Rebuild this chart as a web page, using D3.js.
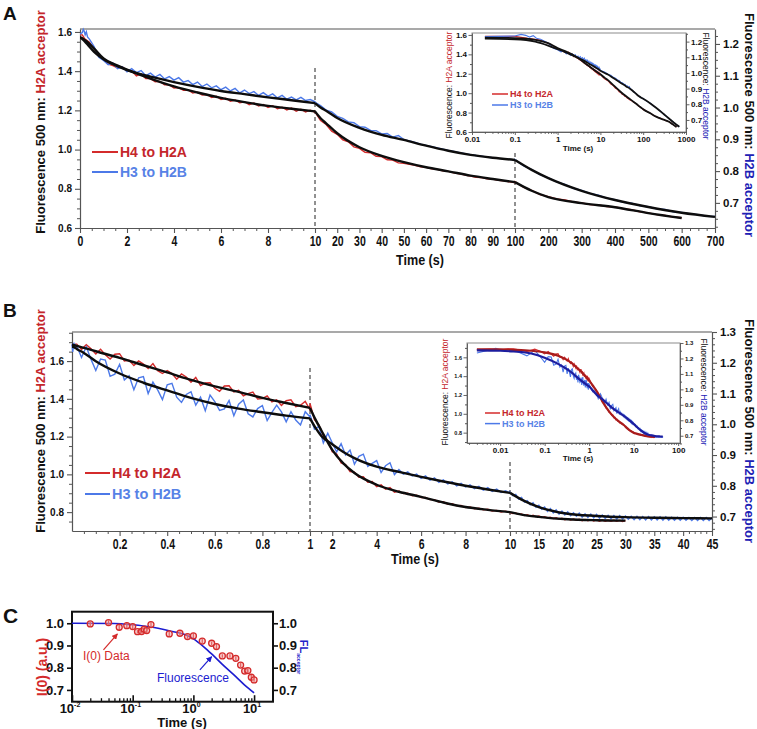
<!DOCTYPE html>
<html>
<head>
<meta charset="utf-8">
<script src="https://cdn.jsdelivr.net/npm/d3@7"></script>
<style>
  body { margin: 0; background: #fff; }
  svg { display: block; }
  text { white-space: pre; }
</style>
</head>
<body>
<svg id="fig" width="757" height="729"></svg>
<script>
// ---------- values ----------

// Panel A : red = H4 to H2A (left axis), blue = H3 to H2B (right axis); time in s
const aRedEarly = [[0, 1.585], [0.02, 1.585], [0.1, 1.585], [0.2, 1.565]];
// t = 0.4 .. 10 every 0.2 s
const aRedRaw1 = [1.548, 1.515, 1.485, 1.458, 1.436, 1.428, 1.416, 1.422, 1.400, 1.402,
  1.376, 1.386, 1.362, 1.362, 1.346, 1.348, 1.330, 1.330, 1.314, 1.316,
  1.302, 1.304, 1.288, 1.293, 1.278, 1.281, 1.266, 1.272, 1.256, 1.262,
  1.246, 1.253, 1.239, 1.244, 1.229, 1.238, 1.222, 1.230, 1.215, 1.224,
  1.208, 1.216, 1.202, 1.212, 1.196, 1.206, 1.192, 1.201, 1.190];
// t = 10 .. 100 every 2.5 s
const aRedRaw2 = [1.192, 1.148, 1.128, 1.094, 1.078, 1.050, 1.040, 1.014, 1.006, 0.986,
  0.984, 0.966, 0.964, 0.948, 0.946, 0.932, 0.930, 0.925, 0.920, 0.912,
  0.909, 0.902, 0.899, 0.892, 0.889, 0.881, 0.877, 0.870, 0.865, 0.859,
  0.857, 0.851, 0.849, 0.843, 0.841, 0.835, 0.831];
// t = 100 .. 600 every 25 s
const aRedRaw3 = [0.836, 0.808, 0.792, 0.771, 0.760, 0.748, 0.743, 0.733, 0.728, 0.720,
  0.717, 0.710, 0.707, 0.698, 0.693, 0.683, 0.677, 0.668, 0.664, 0.656, 0.652];
const aRedFit = [[0, 1.572], [0.02, 1.572], [0.1, 1.568], [0.3, 1.55], [0.6, 1.515], [1, 1.465],
  [1.5, 1.433], [2, 1.408], [3, 1.362], [4, 1.322], [5, 1.291], [6, 1.264], [7, 1.242],
  [8, 1.223], [9, 1.208], [10, 1.195], [12.5, 1.16], [15, 1.134], [20, 1.083], [30, 1.012],
  [40, 0.968], [50, 0.936], [60, 0.91], [70, 0.889], [80, 0.867], [90, 0.85], [100, 0.834],
  [150, 0.79], [200, 0.758], [300, 0.727], [400, 0.706], [500, 0.676], [600, 0.651]];

const aBlueEarly = [[0, 1.232], [0.02, 1.232], [0.1, 1.236], [0.14, 1.246], [0.18, 1.24],
  [0.22, 1.229], [0.27, 1.238], [0.32, 1.222]];
const aBlueRaw1 = [1.215, 1.192, 1.158, 1.148, 1.135, 1.140, 1.122, 1.128, 1.112, 1.122,
  1.110, 1.116, 1.100, 1.108, 1.096, 1.104, 1.090, 1.097, 1.086, 1.094,
  1.080, 1.085, 1.072, 1.080, 1.066, 1.074, 1.062, 1.068, 1.056, 1.064,
  1.052, 1.060, 1.046, 1.055, 1.044, 1.050, 1.038, 1.047, 1.036, 1.043,
  1.030, 1.038, 1.026, 1.033, 1.024, 1.032, 1.022, 1.025, 1.018];
const aBlueRaw2 = [1.016, 1.006, 0.992, 0.986, 0.972, 0.966, 0.955, 0.952, 0.940, 0.938,
  0.928, 0.927, 0.917, 0.918, 0.907, 0.912, 0.899, 0.895, 0.890, 0.885,
  0.881, 0.877, 0.873, 0.869, 0.865, 0.862, 0.858, 0.855, 0.852, 0.849,
  0.847, 0.844, 0.842, 0.840, 0.839, 0.837, 0.835];
// t = 100 .. 700 every 25 s
const aBlueRaw3 = [0.836, 0.817, 0.805, 0.789, 0.779, 0.766, 0.758, 0.746, 0.739, 0.730,
  0.724, 0.715, 0.710, 0.702, 0.699, 0.691, 0.688, 0.681, 0.679, 0.672,
  0.670, 0.665, 0.663, 0.658, 0.657];
const aBlueFit = [[0, 1.219], [0.02, 1.219], [0.1, 1.215], [0.3, 1.2], [0.6, 1.175], [1, 1.152],
  [1.5, 1.133], [2, 1.118], [3, 1.097], [4, 1.08], [5, 1.065], [6, 1.052], [7, 1.042],
  [8, 1.032], [9, 1.023], [10, 1.014], [12.5, 1.0], [15, 0.99], [20, 0.967], [30, 0.936],
  [40, 0.914], [50, 0.898], [60, 0.88], [70, 0.864], [80, 0.851], [90, 0.842], [100, 0.835],
  [150, 0.804], [200, 0.778], [300, 0.738], [400, 0.709], [500, 0.687], [600, 0.669], [700, 0.656]];

// Panel B
const bRedEarly = [[0, 1.685], [0.003, 1.68], [0.006, 1.688], [0.01, 1.678], [0.015, 1.69]];
// t = 0.02 .. 1 every 0.02 s
const bRedRaw1 = [1.690, 1.662, 1.687, 1.665, 1.637, 1.663, 1.634, 1.611, 1.636, 1.639,
  1.601, 1.604, 1.576, 1.601, 1.584, 1.560, 1.587, 1.549, 1.534, 1.550,
  1.534, 1.504, 1.532, 1.516, 1.488, 1.513, 1.470, 1.484, 1.485, 1.456,
  1.440, 1.468, 1.469, 1.437, 1.445, 1.416, 1.428, 1.436, 1.399, 1.401,
  1.416, 1.384, 1.395, 1.365, 1.390, 1.395, 1.359, 1.366, 1.387, 1.342];
// t = 1 .. 10 every 0.2 s
const bRedRaw2 = [1.375, 1.290, 1.262, 1.205, 1.178, 1.120, 1.108, 1.060, 1.052, 1.015,
  1.012, 0.985, 0.988, 0.958, 0.962, 0.935, 0.944, 0.922, 0.930, 0.905,
  0.912, 0.898, 0.900, 0.887, 0.890, 0.877, 0.878, 0.866, 0.866, 0.853,
  0.855, 0.842, 0.844, 0.833, 0.835, 0.824, 0.827, 0.818, 0.821, 0.812,
  0.815, 0.806, 0.809, 0.801, 0.805, 0.798];
// t = 10 .. 30 every 0.5 s
const bRedRaw3 = [0.799, 0.792, 0.795, 0.788, 0.790, 0.782, 0.786, 0.779, 0.783, 0.775,
  0.779, 0.772, 0.776, 0.769, 0.773, 0.766, 0.770, 0.763, 0.768, 0.760,
  0.765, 0.758, 0.763, 0.757, 0.762, 0.755, 0.761, 0.754, 0.760, 0.753,
  0.759, 0.752, 0.758, 0.752, 0.757, 0.751, 0.757, 0.751, 0.756, 0.750, 0.755];
const bRedFit = [[0, 1.685], [0.003, 1.685], [0.01, 1.684], [0.02, 1.68], [0.05, 1.67], [0.1, 1.652],
  [0.2, 1.617], [0.3, 1.578], [0.4, 1.54], [0.5, 1.50], [0.6, 1.466], [0.7, 1.437], [0.8, 1.405],
  [0.9, 1.378], [1, 1.352], [1.25, 1.29], [1.5, 1.235], [2, 1.13], [2.5, 1.058], [3, 1.007],
  [4, 0.945], [5, 0.908], [6, 0.881], [7, 0.851], [8, 0.827], [9, 0.812], [10, 0.80],
  [12, 0.787], [15, 0.775], [20, 0.762], [25, 0.757], [30, 0.755]];

const bBlueEarly = [[0, 1.26], [0.003, 1.235], [0.008, 1.265], [0.012, 1.25], [0.016, 1.258]];
const bBlueRaw1 = [1.255, 1.217, 1.252, 1.211, 1.175, 1.212, 1.209, 1.156, 1.163, 1.195,
  1.144, 1.158, 1.112, 1.151, 1.155, 1.100, 1.137, 1.112, 1.080, 1.128,
  1.133, 1.088, 1.071, 1.097, 1.106, 1.062, 1.088, 1.044, 1.095, 1.074,
  1.045, 1.050, 1.077, 1.028, 1.065, 1.079, 1.034, 1.024, 1.051, 1.061,
  1.012, 1.039, 1.062, 1.040, 1.008, 1.041, 1.014, 0.998, 1.041, 1.024];
const bBlueRaw2 = [1.031, 0.984, 0.993, 0.939, 0.971, 0.940, 0.910, 0.937, 0.900, 0.916,
  0.870, 0.896, 0.903, 0.863, 0.873, 0.882, 0.843, 0.865, 0.875, 0.836,
  0.853, 0.838, 0.845, 0.832, 0.838, 0.824, 0.832, 0.818, 0.826, 0.811,
  0.819, 0.806, 0.813, 0.800, 0.808, 0.796, 0.803, 0.791, 0.798, 0.786,
  0.794, 0.782, 0.789, 0.778, 0.784, 0.776];
// t = 10 .. 45 every 0.5 s
const bBlueRaw3 = [0.779, 0.768, 0.772, 0.757, 0.762, 0.747, 0.752, 0.738, 0.745, 0.730,
  0.737, 0.724, 0.731, 0.717, 0.726, 0.712, 0.722, 0.708, 0.718, 0.705,
  0.715, 0.703, 0.712, 0.701, 0.711, 0.698, 0.709, 0.697, 0.708, 0.696,
  0.707, 0.695, 0.705, 0.694, 0.704, 0.693, 0.703, 0.692, 0.703, 0.692,
  0.702, 0.691, 0.701, 0.690, 0.701, 0.690, 0.700, 0.689, 0.700, 0.689,
  0.699, 0.689, 0.699, 0.688, 0.699, 0.688, 0.698, 0.688, 0.698, 0.688,
  0.698, 0.688, 0.697, 0.687, 0.697, 0.687, 0.697, 0.687, 0.697, 0.687, 0.696];
const bBlueFit = [[0, 1.252], [0.003, 1.252], [0.01, 1.25], [0.02, 1.245], [0.05, 1.232],
  [0.1, 1.205], [0.2, 1.165], [0.3, 1.135], [0.4, 1.11], [0.5, 1.086], [0.6, 1.066],
  [0.7, 1.051], [0.8, 1.039], [0.9, 1.028], [1, 1.019], [1.25, 0.988], [1.5, 0.963],
  [2, 0.935], [2.5, 0.91], [3, 0.89], [4, 0.862], [5, 0.845], [6, 0.829], [7, 0.814],
  [8, 0.80], [9, 0.788], [10, 0.777], [12, 0.755], [15, 0.731], [20, 0.709], [25, 0.702],
  [30, 0.698], [35, 0.696], [40, 0.695], [45, 0.694]];

// Panel C
const cTime = [0.02, 0.04, 0.06, 0.08, 0.1, 0.12, 0.14, 0.155, 0.17, 0.2, 0.4, 0.6, 0.8, 1,
  1.4, 2, 2.4, 3, 4, 5, 6, 7, 7.9, 9, 10];
const cI0 = [0.997, 1.003, 0.982, 0.989, 0.985, 0.962, 0.963, 0.973, 0.967, 0.994, 0.952,
  0.955, 0.94, 0.943, 0.92, 0.91, 0.895, 0.853, 0.853, 0.842, 0.812, 0.785, 0.787, 0.757, 0.745];
const cErr = [0.01, 0.01, 0.014, 0.014, 0.014, 0.008, 0.008, 0.01, 0.012, 0.01, 0.014,
  0.008, 0.01, 0.012, 0.01, 0.008, 0.012, 0.008, 0.008, 0.01, 0.01, 0.012, 0.01, 0.01, 0.008];
const cFluoT = [0.01, 0.05, 0.1, 0.2, 0.4, 0.7, 1, 1.5, 2, 3, 5, 7, 10];
const cFluoV = [1.0, 0.999, 0.993, 0.983, 0.966, 0.95, 0.93, 0.893, 0.862, 0.815, 0.76, 0.722, 0.687];

// tick values
const aTicksX = [0, 2, 4, 6, 8, 10, 20, 30, 40, 50, 60, 70, 80, 90, 100, 200, 300, 400, 500, 600, 700];
const aTicksL = [0.6, 0.8, 1.0, 1.2, 1.4, 1.6];
const aTicksR = [0.7, 0.8, 0.9, 1.0, 1.1, 1.2];
const bTicksX = [0.2, 0.4, 0.6, 0.8, 1, 2, 4, 6, 8, 10, 15, 20, 25, 30, 35, 40, 45];
const bTicksL = [0.8, 1.0, 1.2, 1.4, 1.6];
const bTicksR = [0.7, 0.8, 0.9, 1.0, 1.1, 1.2, 1.3];
const insetATicksX = [0.01, 0.1, 1, 10, 100, 1000];
const insetBTicksX = [0.01, 0.1, 1, 10, 100];
const cTicksY = [0.7, 0.8, 0.9, 1.0];
const cTicksX = [0.01, 0.1, 1, 10];

// ---------- drawing ----------
const svg = d3.select("#fig");
const FONT = "'Liberation Sans', Arial, Helvetica, sans-serif";
const AX = "#555";
const RED = "#d42b2b", BLUE = "#4c79e8";
const RED_T = "#c4262b", BLUE_T = "#5782e6", NAVY = "#2020b4";

function grid(t0, dt, vals) { return vals.map((v, i) => [+(t0 + i * dt).toFixed(4), v]); }
function splitAt(pts, breaks) {
  const edges = [-Infinity, ...breaks, Infinity], segs = [];
  for (let i = 0; i < edges.length - 1; i++) {
    const s = pts.filter(p => p[0] >= edges[i] && p[0] <= edges[i + 1]);
    if (s.length > 1) segs.push(s);
  }
  return segs;
}
function notMultiple(step) { return v => Math.abs(v / step - Math.round(v / step)) > 1e-6; }

const aRed = [...aRedEarly, ...grid(0.4, 0.2, aRedRaw1), ...grid(10, 2.5, aRedRaw2), ...grid(100, 25, aRedRaw3)];
const aBlue = [...aBlueEarly, ...grid(0.4, 0.2, aBlueRaw1), ...grid(10, 2.5, aBlueRaw2), ...grid(100, 25, aBlueRaw3)];
const bRed = [...bRedEarly, ...grid(0.02, 0.02, bRedRaw1), ...grid(1, 0.2, bRedRaw2), ...grid(10, 0.5, bRedRaw3)];
const bBlue = [...bBlueEarly, ...grid(0.02, 0.02, bBlueRaw1), ...grid(1, 0.2, bBlueRaw2), ...grid(10, 0.5, bBlueRaw3)];

function axisStyle(g, fs, col) {
  g.attr("font-family", FONT).attr("font-size", fs).attr("font-weight", "bold");
  g.select(".domain").attr("stroke", col || AX).attr("stroke-width", 1.2);
  g.selectAll(".tick line").attr("stroke", col || AX).attr("stroke-width", 1.1);
  g.selectAll(".tick text").attr("fill", "#111");
  return g;
}
function minorAxis(g, axis, tr, col) {
  const m = g.append("g").attr("transform", tr).call(axis.tickFormat(""));
  m.select(".domain").remove();
  m.selectAll("line").attr("stroke", col || AX).attr("stroke-width", 1);
  return m;
}
function rotLabel(g, x, y, angle, parts, fs, weight) {
  const t = g.append("text").attr("transform", `translate(${x},${y}) rotate(${angle})`)
    .attr("text-anchor", "middle").attr("font-family", FONT)
    .attr("font-size", fs).attr("font-weight", weight);
  parts.forEach(([s, c]) => t.append("tspan").attr("fill", c).text(s));
  return t;
}
function legend(g, lg) {
  [["H4 to H2A", RED, RED_T], ["H3 to H2B", BLUE, BLUE_T]].forEach(([name, lc, tc], i) => {
    const y = lg.y + i * lg.dy;
    g.append("line").attr("x1", lg.x1).attr("x2", lg.x2).attr("y1", y).attr("y2", y)
      .attr("stroke", lc).attr("stroke-width", lg.w || 2);
    g.append("text").attr("x", lg.x2 + 2).attr("y", y + lg.fs * 0.36)
      .attr("font-family", FONT).attr("font-size", lg.fs).attr("font-weight", "bold")
      .attr("fill", tc).text(name);
  });
}

function mainPanel(p) {
  const g = svg.append("g");
  const xr = p.x.range(), L = xr[0], R = xr[xr.length - 1];
  g.append("line").attr("x1", L).attr("x2", R).attr("y1", p.top).attr("y2", p.top)
    .attr("stroke", AX).attr("stroke-width", 1.2);
  p.dashes.forEach(([t, y0]) => g.append("line")
    .attr("x1", p.x(t)).attr("x2", p.x(t)).attr("y1", y0).attr("y2", p.bottom)
    .attr("stroke", "#222").attr("stroke-width", 1).attr("stroke-dasharray", "4,3"));

  minorAxis(g, d3.axisBottom(p.x).tickValues(p.xMinor).tickSize(3), `translate(0,${p.bottom})`);
  minorAxis(g, d3.axisLeft(p.yL).tickValues(p.yLMinor).tickSize(3), `translate(${L},0)`);
  minorAxis(g, d3.axisRight(p.yR).tickValues(p.yRMinor).tickSize(3), `translate(${R},0)`);

  const gx = g.append("g").attr("transform", `translate(0,${p.bottom})`)
    .call(d3.axisBottom(p.x).tickValues(p.xTicks).tickSize(5).tickSizeOuter(0).tickPadding(3).tickFormat(d => d));
  axisStyle(gx, p.xFs);
  gx.selectAll(".tick text").attr("transform", `scale(${p.xSx},1)`);
  const gl = g.append("g").attr("transform", `translate(${L},0)`)
    .call(d3.axisLeft(p.yL).tickValues(p.yLTicks).tickSize(5).tickSizeOuter(0).tickPadding(3).tickFormat(d3.format(".1f")));
  axisStyle(gl, p.yLFs);
  const gr = g.append("g").attr("transform", `translate(${R},0)`)
    .call(d3.axisRight(p.yR).tickValues(p.yRTicks).tickSize(5).tickSizeOuter(0).tickPadding(3).tickFormat(d3.format(".1f")));
  axisStyle(gr, p.yRFs);

  const rawL = d3.line().x(d => p.x(d[0])).y(d => p.yL(d[1]));
  const rawR = d3.line().x(d => p.x(d[0])).y(d => p.yR(d[1]));
  g.append("path").datum(p.red).attr("d", rawL).attr("fill", "none").attr("stroke", RED).attr("stroke-width", 1.4);
  g.append("path").datum(p.blue).attr("d", rawR).attr("fill", "none").attr("stroke", BLUE).attr("stroke-width", 1.4);
  const fitL = d3.line().curve(d3.curveMonotoneX).x(d => p.x(d[0])).y(d => p.yL(d[1]));
  const fitR = d3.line().curve(d3.curveMonotoneX).x(d => p.x(d[0])).y(d => p.yR(d[1]));
  splitAt(p.redFit, p.breaks).forEach(s => g.append("path").datum(s).attr("d", fitL)
    .attr("fill", "none").attr("stroke", "#0d0d0d").attr("stroke-width", 2.4));
  splitAt(p.blueFit, p.breaks).forEach(s => g.append("path").datum(s).attr("d", fitR)
    .attr("fill", "none").attr("stroke", "#0d0d0d").attr("stroke-width", 2.4));

  legend(g, p.legend);
  rotLabel(g, p.labelL[0], p.labelL[1], -90, [["Fluorescence 500 nm: ", "#111"], ["H2A acceptor", RED_T]], 13, "bold");
  rotLabel(g, p.labelR[0], p.labelR[1], 90, [["Fluorescence 500 nm: ", "#111"], ["H2B acceptor", NAVY]], 13, "bold");
  g.append("text").attr("transform", `translate(${p.time[0]},${p.time[1]}) scale(0.9,1)`)
    .attr("text-anchor", "middle").attr("font-family", FONT).attr("font-size", 14)
    .attr("font-weight", "bold").attr("fill", "#111").text("Time (s)");
  return g;
}

function inset(p) {
  const g = svg.append("g");
  const [L, R] = p.x.range();
  g.append("rect").attr("x", L).attr("y", p.top).attr("width", R - L).attr("height", p.bottom - p.top)
    .attr("fill", "#fff").attr("stroke", "#8c8c8c").attr("stroke-width", 1);
  const [d0, d1] = p.x.domain(), xm = [];
  for (let e = Math.floor(Math.log10(d0)); e <= Math.ceil(Math.log10(d1)); e++)
    for (let m = 2; m <= 9; m++) { const v = m * Math.pow(10, e); if (v >= d0 && v <= d1) xm.push(v); }
  minorAxis(g, d3.axisBottom(p.x).tickValues(xm).tickSize(1.8), `translate(0,${p.bottom})`);
  minorAxis(g, d3.axisLeft(p.yL).tickValues(p.yLMinor).tickSize(2), `translate(${L},0)`);
  minorAxis(g, d3.axisRight(p.yR).tickValues(p.yRMinor).tickSize(2), `translate(${R},0)`);
  const gx = g.append("g").attr("transform", `translate(0,${p.bottom})`)
    .call(d3.axisBottom(p.x).tickValues(p.xTicks).tickSize(3).tickSizeOuter(0).tickPadding(1).tickFormat(d => d));
  axisStyle(gx, p.xFs);
  const gl = g.append("g").attr("transform", `translate(${L},0)`)
    .call(d3.axisLeft(p.yL).tickValues(p.yLTicks).tickSize(3.5).tickSizeOuter(0).tickPadding(1.5).tickFormat(d3.format(".1f")));
  axisStyle(gl, p.yLFs);
  const gr = g.append("g").attr("transform", `translate(${R},0)`)
    .call(d3.axisRight(p.yR).tickValues(p.yRTicks).tickSize(3.5).tickSizeOuter(0).tickPadding(1.5).tickFormat(d3.format(".1f")));
  axisStyle(gr, p.yRFs);
  [gx, gl, gr].forEach(a => a.selectAll(".domain, .tick line").attr("stroke-width", 0.9));

  const inX = d => d[0] >= d0 && d[0] <= d1;
  const lineL = d3.line().x(d => p.x(d[0])).y(d => p.yL(d[1]));
  const lineR = d3.line().x(d => p.x(d[0])).y(d => p.yR(d[1]));
  g.append("path").datum(p.red.filter(inX)).attr("d", lineL).attr("fill", "none").attr("stroke", RED).attr("stroke-width", 1.1);
  g.append("path").datum(p.blue.filter(inX)).attr("d", lineR).attr("fill", "none").attr("stroke", BLUE).attr("stroke-width", 1.1);
  const fitL = d3.line().curve(d3.curveMonotoneX).x(d => p.x(d[0])).y(d => p.yL(d[1]));
  const fitR = d3.line().curve(d3.curveMonotoneX).x(d => p.x(d[0])).y(d => p.yR(d[1]));
  g.append("path").datum(p.redFit.filter(inX)).attr("d", fitL).attr("fill", "none")
    .attr("stroke", p.fitRed).attr("stroke-width", p.fitW);
  g.append("path").datum(p.blueFit.filter(inX)).attr("d", fitR).attr("fill", "none")
    .attr("stroke", p.fitBlue).attr("stroke-width", p.fitW);

  legend(g, p.legend);
  rotLabel(g, p.labelL[0], p.labelL[1], -90, [["Fluorescence: ", "#111"], ["H2A acceptor", RED_T]], 8.5, "normal");
  rotLabel(g, p.labelR[0], p.labelR[1], 90, [["Fluorescence: ", "#111"], ["H2B acceptor", NAVY]], 8.5, "normal");
  g.append("text").attr("x", p.time[0]).attr("y", p.time[1]).attr("text-anchor", "middle")
    .attr("font-family", FONT).attr("font-size", 8).attr("font-weight", "bold").attr("fill", "#111").text("Time (s)");
}

// ----- Panel A -----
mainPanel({
  x: d3.scaleLinear().domain([0, 10, 100, 700]).range([80, 315, 515, 715]),
  yL: d3.scaleLinear().domain([0.6, 1.615]).range([228, 29]),
  yR: d3.scaleLinear().domain([0.621, 1.247]).range([228, 29]),
  top: 29, bottom: 228, breaks: [10, 100], dashes: [[10, 68], [100, 153]],
  xTicks: aTicksX,
  xMinor: [...d3.range(0.5, 10, 0.5).filter(notMultiple(2)), ...d3.range(15, 100, 5).filter(notMultiple(10)),
    ...d3.range(125, 700, 25).filter(notMultiple(100))],
  yLTicks: aTicksL, yLMinor: d3.range(0.65, 1.615, 0.05).filter(notMultiple(0.2)),
  yRTicks: aTicksR, yRMinor: d3.range(0.625, 1.247, 0.025).filter(notMultiple(0.1)),
  red: aRed, blue: aBlue, redFit: aRedFit, blueFit: aBlueFit,
  xFs: 14, xSx: 0.75, yLFs: 10, yRFs: 11.5,
  legend: { x1: 92, x2: 118, y: 152, dy: 20, fs: 14 },
  labelL: [45, 122], labelR: [745, 125], time: [420, 265]
});
inset({
  x: d3.scaleLog().domain([0.01, 1000]).range([472, 686]),
  yL: d3.scaleLinear().domain([0.6, 1.62]).range([132, 33]),
  yR: d3.scaleLinear().domain([0.623, 1.255]).range([132, 33]),
  top: 33, bottom: 132,
  xTicks: insetATicksX,
  yLTicks: aTicksL, yLMinor: d3.range(0.7, 1.62, 0.1).filter(notMultiple(0.2)),
  yRTicks: aTicksR, yRMinor: d3.range(0.65, 1.255, 0.05).filter(notMultiple(0.1)),
  red: aRed, blue: aBlue, redFit: aRedFit, blueFit: aBlueFit,
  fitRed: "#111", fitBlue: "#111", fitW: 1.8,
  xFs: 8, yLFs: 8, yRFs: 8,
  legend: { x1: 492, x2: 508, y: 94, dy: 11, fs: 9, w: 1.5 },
  labelL: [452, 85], labelR: [703, 86], time: [578, 151]
});

// ----- Panel B -----
mainPanel({
  x: d3.scaleLinear().domain([0, 1, 10, 45]).range([72, 310, 510, 712]),
  yL: d3.scaleLinear().domain([0.70, 1.754]).range([531, 332]),
  yR: d3.scaleLinear().domain([0.653, 1.30]).range([531, 332]),
  top: 332, bottom: 531, breaks: [1, 10], dashes: [[1, 368], [10, 462]],
  xTicks: bTicksX,
  xMinor: [...d3.range(0.05, 1, 0.05).filter(notMultiple(0.2)), ...d3.range(1.5, 10, 0.5).filter(notMultiple(2)),
    ...d3.range(11, 45, 1).filter(notMultiple(5))],
  yLTicks: bTicksL, yLMinor: d3.range(0.75, 1.754, 0.05).filter(notMultiple(0.2)),
  yRTicks: bTicksR, yRMinor: d3.range(0.66, 1.30, 0.02).filter(notMultiple(0.1)),
  red: bRed, blue: bBlue, redFit: bRedFit, blueFit: bBlueFit,
  xFs: 14, xSx: 0.75, yLFs: 10, yRFs: 11.5,
  legend: { x1: 85, x2: 110, y: 473, dy: 21, fs: 14.5 },
  labelL: [45, 421], labelR: [745, 431], time: [415, 564]
});
inset({
  x: d3.scaleLog().domain([0.0018, 110]).range([467, 680]),
  yL: d3.scaleLinear().domain([0.69, 1.752]).range([443, 343]),
  yR: d3.scaleLinear().domain([0.653, 1.30]).range([443, 343]),
  top: 343, bottom: 443,
  xTicks: insetBTicksX,
  yLTicks: bTicksL, yLMinor: d3.range(0.7, 1.752, 0.1).filter(notMultiple(0.2)),
  yRTicks: bTicksR, yRMinor: d3.range(0.65, 1.30, 0.05).filter(notMultiple(0.1)),
  red: bRed, blue: bBlue, redFit: bRedFit, blueFit: bBlueFit,
  fitRed: "#a81c1c", fitBlue: "#1d1d9e", fitW: 2.2,
  xFs: 8, yLFs: 5.5, yRFs: 6,
  legend: { x1: 485, x2: 500, y: 413, dy: 10.6, fs: 9, w: 1.5 },
  labelL: [448, 392], labelR: [701, 392], time: [578, 461]
});

// ----- Panel C -----
const xC = d3.scaleLog().domain([0.01, 20.5]).range([72, 273]);
const yC = d3.scaleLinear().domain([0.647, 1.052]).range([701.7, 611.7]);
const gC = svg.append("g");
const defs = svg.append("defs");
[["arR", "#d42b2b"], ["arB", "#1c1cd0"]].forEach(([id, c]) => defs.append("marker")
  .attr("id", id).attr("viewBox", "0 0 10 10").attr("refX", 9).attr("refY", 5)
  .attr("markerWidth", 5).attr("markerHeight", 5).attr("orient", "auto")
  .append("path").attr("d", "M0,0L10,5L0,10z").attr("fill", c));

const cMinor = [];
[0.01, 0.1, 1].forEach(d => { for (let m = 2; m <= 9; m++) cMinor.push(d * m); });
cMinor.push(20);
minorAxis(gC, d3.axisBottom(xC).tickValues(cMinor).tickSize(-3.5), "translate(0,701.7)", "#111")
  .selectAll("line").attr("stroke-width", 1.3);
minorAxis(gC, d3.axisBottom(xC).tickValues(cTicksX).tickSize(-6.5), "translate(0,701.7)", "#111")
  .selectAll("line").attr("stroke-width", 1.6);
const gcl = gC.append("g").attr("transform", "translate(72,0)")
  .call(d3.axisLeft(yC).tickValues(cTicksY).tickSize(5).tickSizeOuter(0).tickPadding(3).tickFormat(d3.format(".1f")));
axisStyle(gcl, 13, "#111"); gcl.select(".domain").remove();
gcl.selectAll(".tick line").attr("stroke-width", 1.6);
const gcr = gC.append("g").attr("transform", "translate(273,0)")
  .call(d3.axisRight(yC).tickValues(cTicksY).tickSize(5).tickSizeOuter(0).tickPadding(1).tickFormat(d3.format(".1f")));
axisStyle(gcr, 13, "#111"); gcr.select(".domain").remove();
gcr.selectAll(".tick line").attr("stroke-width", 1.6);
gC.append("rect").attr("x", 72).attr("y", 611.7).attr("width", 201).attr("height", 90)
  .attr("fill", "none").attr("stroke", "#111").attr("stroke-width", 2);
cTicksX.forEach(v => {
  const t = gC.append("text").attr("x", xC(v) - 2).attr("y", 713).attr("text-anchor", "middle")
    .attr("font-family", FONT).attr("font-size", 13).attr("font-weight", "bold").attr("fill", "#111");
  t.append("tspan").text("10");
  t.append("tspan").attr("font-size", 7).attr("dy", -6).text(String(Math.round(Math.log10(v))));
});
gC.append("text").attr("x", 182).attr("y", 727).attr("text-anchor", "middle").attr("font-family", FONT)
  .attr("font-size", 13).attr("font-weight", "bold").attr("fill", "#111").text("Time (s)");

// fluorescence line
gC.append("path").datum(cFluoT.map((t, i) => [t, cFluoV[i]]))
  .attr("d", d3.line().curve(d3.curveMonotoneX).x(d => xC(d[0])).y(d => yC(d[1])))
  .attr("fill", "none").attr("stroke", "#1c1cd0").attr("stroke-width", 1.6);
// I(0) points with error bars
const pts = gC.selectAll(".pt").data(cTime.map((t, i) => ({ t, v: cI0[i], e: cErr[i] }))).join("g");
pts.append("line").attr("x1", d => xC(d.t)).attr("x2", d => xC(d.t))
  .attr("y1", d => yC(d.v - d.e)).attr("y2", d => yC(d.v + d.e)).attr("stroke", "#d42b2b").attr("stroke-width", 1.3);
pts.append("circle").attr("cx", d => xC(d.t)).attr("cy", d => yC(d.v)).attr("r", 3)
  .attr("fill", "#f1a3a3").attr("fill-opacity", 0.5).attr("stroke", "#d42b2b").attr("stroke-width", 1.3);

// annotations
gC.append("text").attr("x", 83).attr("y", 660).attr("font-family", FONT).attr("font-size", 12)
  .attr("fill", "#d42b2b").text("I(0) Data");
gC.append("line").attr("x1", xC(0.033)).attr("y1", yC(0.88)).attr("x2", xC(0.056)).attr("y2", yC(0.952))
  .attr("stroke", "#d42b2b").attr("stroke-width", 1.2).attr("marker-end", "url(#arR)");
gC.append("text").attr("x", 157).attr("y", 682).attr("font-family", FONT).attr("font-size", 12)
  .attr("fill", "#1c1cd0").text("Fluorescence");
gC.append("line").attr("x1", xC(1.28)).attr("y1", yC(0.79)).attr("x2", xC(2.0)).attr("y2", yC(0.85))
  .attr("stroke", "#1c1cd0").attr("stroke-width", 1.2).attr("marker-end", "url(#arB)");

rotLabel(gC, 47, 667, -90, [["I(0) (a.u.)", "#d42b2b"]], 14, "bold");
const fl = gC.append("text").attr("transform", "translate(300,657) rotate(90)").attr("text-anchor", "middle")
  .attr("font-family", FONT).attr("font-weight", "bold").attr("fill", "#2222c8");
fl.append("tspan").attr("font-size", 11).text("FL");
fl.append("tspan").attr("font-size", 5).attr("dy", 3).text("acceptor");

// panel letters
[["A", 3, 20, 19], ["B", 3, 317, 19], ["C", 3, 623, 21]].forEach(([s, x, y, fs]) =>
  svg.append("text").attr("x", x).attr("y", y).attr("font-family", FONT).attr("font-size", fs)
    .attr("font-weight", "bold").attr("fill", "#111").text(s));
</script>
</body>
</html>
